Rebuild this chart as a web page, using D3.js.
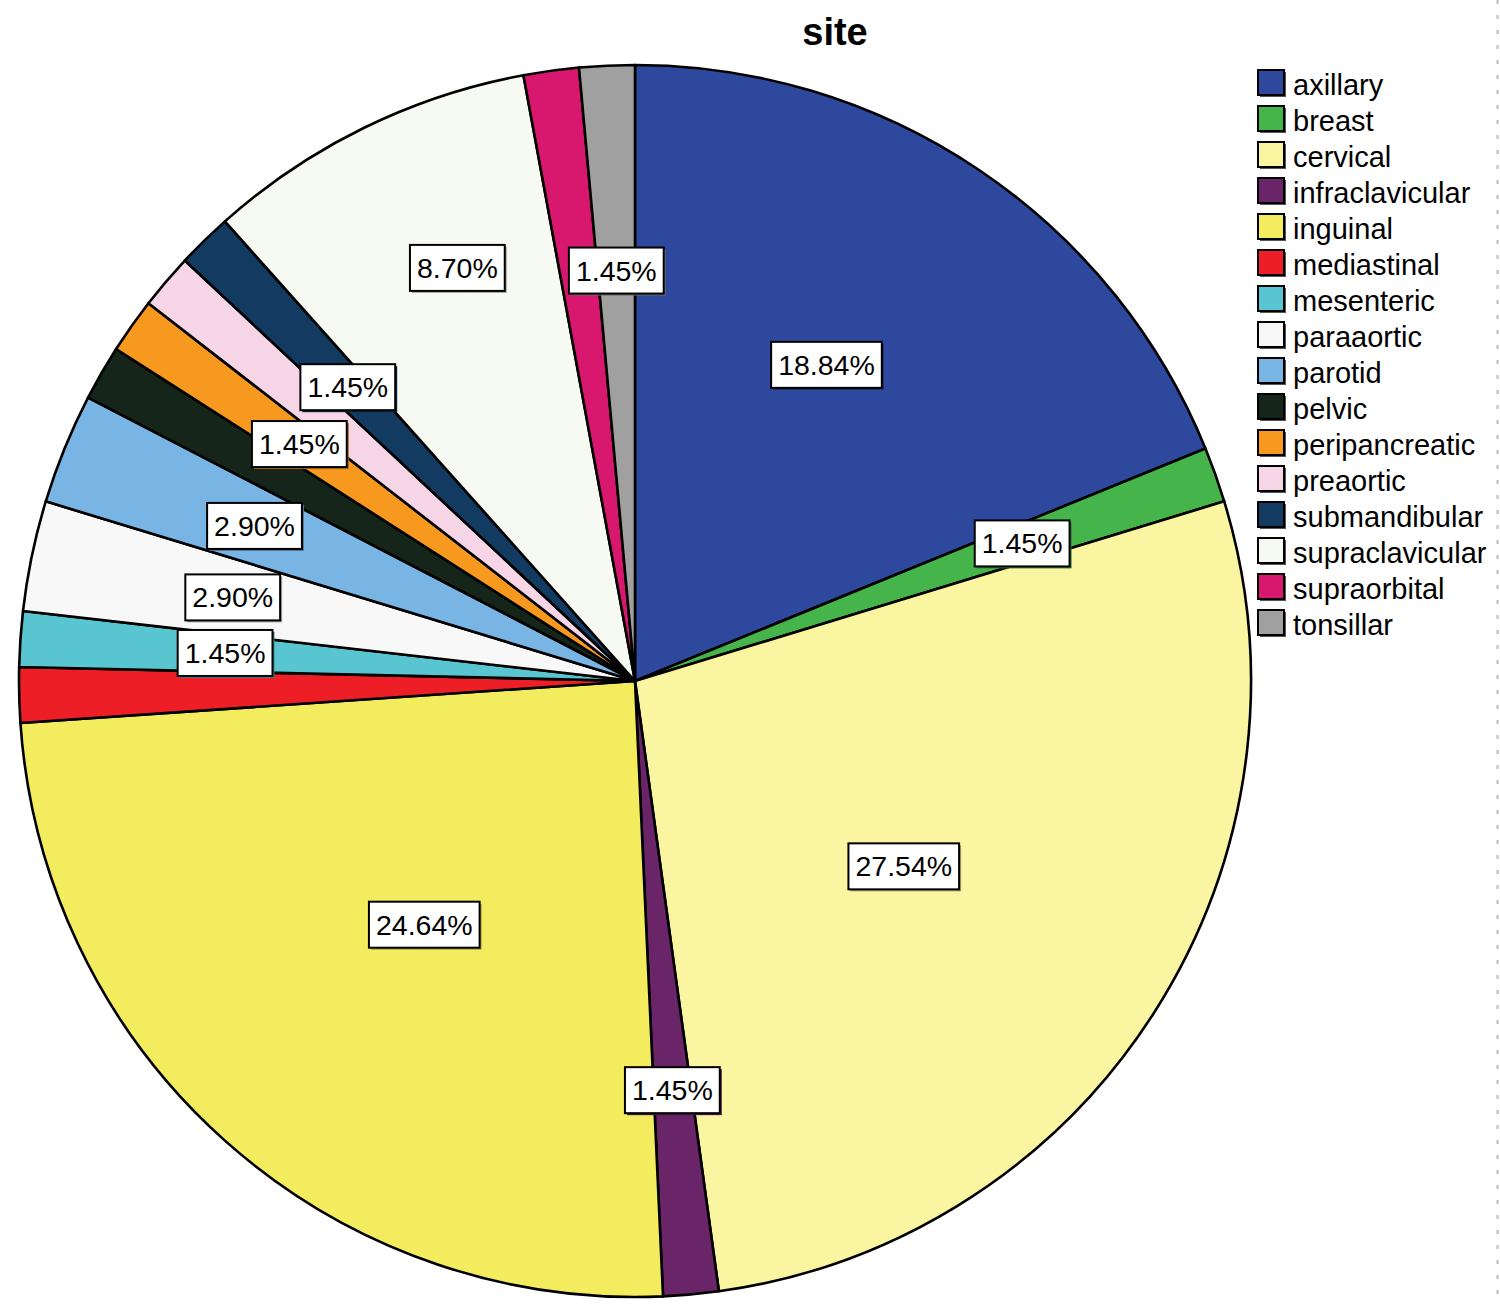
<!DOCTYPE html>
<html>
<head>
<meta charset="utf-8">
<script src="https://cdn.jsdelivr.net/npm/d3@7"></script>
<style>
  html, body { margin: 0; padding: 0; background: #fff; }
  svg { display: block; font-family: "Liberation Sans", Arial, sans-serif; }
</style>
</head>
<body>
<svg id="chart" width="1500" height="1305"></svg>
<script>
// data: node site, counts out of n = 69
const sites = ["axillary", "breast", "cervical", "infraclavicular", "inguinal",
  "mediastinal", "mesenteric", "paraaortic", "parotid", "pelvic", "peripancreatic",
  "preaortic", "submandibular", "supraclavicular", "supraorbital", "tonsillar"];
const counts = [13, 1, 19, 1, 17, 1, 1, 2, 2, 1, 1, 1, 1, 6, 1, 1];
// SPSS dropped these labels (overlap)
const hiddenLabels = ["mediastinal", "pelvic", "preaortic", "supraorbital"];

const palette = ["#2e489e", "#45b54b", "#faf5a0", "#6a2468", "#f4ec5f",
  "#ee1e26", "#58c5d0", "#f8f8f8", "#78b4e4", "#16251a", "#f7991e",
  "#f5d5e6", "#133a60", "#f6faf2", "#d8186f", "#a0a0a0"];

const total = d3.sum(counts);
const data = sites.map((s, i) => ({ site: s, count: counts[i] }));

const svg = d3.select("#chart");
const cx = 635, cy = 681, r = 616;

const color = d3.scaleOrdinal().domain(sites).range(palette);

// label placement: [fraction along slice, fraction of radius]
// thin slices just sit at 2/3 r on the mid angle
const labelPlace = {
  axillary: [0.46, 0.60],
  cervical: [0.52, 0.53],
  inguinal: [0.49, 0.523],
  supraclavicular: [0.59, 0.73]
};

svg.append("text")
    .attr("x", 835).attr("y", 45)
    .attr("text-anchor", "middle")
    .style("font-size", "38px").style("font-weight", "bold")
    .text("site");

const pie = d3.pie().sort(null).value(d => d.count);
const arc = d3.arc().innerRadius(0).outerRadius(r);
const arcs = pie(data);

const g = svg.append("g").attr("transform", `translate(${cx},${cy})`);

g.selectAll("path.slice")
  .data(arcs).enter()
  .append("path")
    .attr("class", "slice")
    .attr("d", arc)
    .attr("fill", d => color(d.data.site))
    .attr("stroke", "#000")
    .attr("stroke-width", 2.6)
    .attr("stroke-linejoin", "round");

// percentage boxes
const labels = g.selectAll("g.lab")
  .data(arcs.filter(d => !hiddenLabels.includes(d.data.site))).enter()
  .append("g")
    .attr("class", "lab")
    .attr("transform", d => {
      const p = labelPlace[d.data.site] || [0.5, 0.667];
      const a = d.startAngle + (d.endAngle - d.startAngle) * p[0];
      const rr = r * p[1];
      return `translate(${Math.sin(a) * rr},${-Math.cos(a) * rr})`;
    });

labels.each(function(d) {
  const lab = d3.select(this);
  const txt = lab.append("text")
      .attr("text-anchor", "middle")
      .attr("y", 10)
      .style("font-size", "28.5px")
      .text((d.data.count / total * 100).toFixed(2) + "%");
  const w = txt.node().getComputedTextLength() + 14, h = 46;
  const shade = d3.color(color(d.data.site)).darker(1.2);
  lab.insert("rect", "text")
      .attr("x", -w / 2 + 2).attr("y", -h / 2 + 2)
      .attr("width", w).attr("height", h)
      .attr("fill", shade);
  lab.insert("rect", "text")
      .attr("x", -w / 2).attr("y", -h / 2)
      .attr("width", w).attr("height", h)
      .attr("fill", "#fff")
      .attr("stroke", "#000")
      .attr("stroke-width", 2);
});

// legend
const legend = svg.append("g").attr("transform", "translate(1258,70)");
const rows = legend.selectAll("g")
  .data(sites).enter()
  .append("g")
    .attr("transform", (d, i) => `translate(0,${i * 36})`);

rows.append("rect")
    .attr("x", 2).attr("y", 2).attr("width", 26).attr("height", 25)
    .attr("fill", "#555");
rows.append("rect")
    .attr("width", 26).attr("height", 25)
    .attr("fill", d => color(d))
    .attr("stroke", "#000").attr("stroke-width", 2);
rows.append("text")
    .attr("x", 35).attr("y", 25)
    .style("font-size", "29px")
    .text(d => d);

// dotted edge of the output viewer
svg.append("line")
    .attr("x1", 1497.5).attr("x2", 1497.5)
    .attr("y1", 0).attr("y2", 1305)
    .attr("stroke", "#bbb")
    .attr("stroke-width", 2)
    .attr("stroke-dasharray", "4,11");
</script>
</body>
</html>
